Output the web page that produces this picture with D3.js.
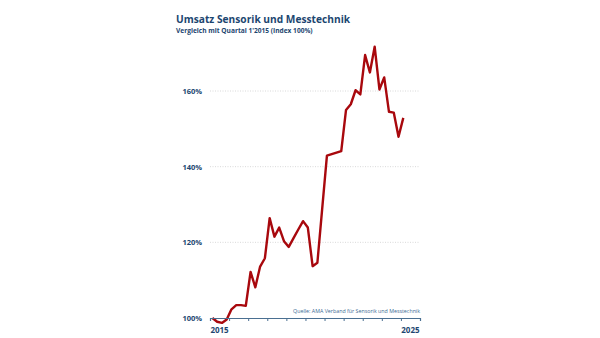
<!DOCTYPE html>
<html>
<head>
<meta charset="utf-8">
<script src="https://cdn.jsdelivr.net/npm/d3@7"></script>
<style>
  html, body { margin: 0; padding: 0; background: #fff; }
  svg { display: block; font-family: "Open Sans", sans-serif; }
</style>
</head>
<body>
<svg id="chart" width="600" height="338"></svg>
<script>
// Quarterly index values, Q1 2015 .. Q1 2025 (Q1 2015 = 100)
const years =    [2015,2015,2015,2015, 2016,2016,2016,2016, 2017,2017,2017,2017, 2018,2018,2018,2018,
                  2019,2019,2019,2019, 2020,2020,2020,2020, 2021,2021,2021,2021, 2022,2022,2022,2022,
                  2023,2023,2023,2023, 2024,2024,2024,2024, 2025];
const quarters = [1,2,3,4, 1,2,3,4, 1,2,3,4, 1,2,3,4, 1,2,3,4, 1,2,3,4, 1,2,3,4, 1,2,3,4, 1,2,3,4, 1,2,3,4, 1];
const values =   [100.0, 99.0, 98.7, 99.6, 102.3, 103.4, 103.4, 103.2,
                  112.2, 108.1, 113.6, 115.8, 126.4, 121.5, 123.9, 120.3,
                  118.8, 121.1, 123.4, 125.6, 123.9, 113.7, 114.6, 128.8,
                  142.9, 143.3, 143.7, 144.1, 155.0, 156.5, 160.2, 159.1,
                  169.5, 164.9, 171.7, 160.4, 163.6, 154.5, 154.3, 147.9, 152.9];
const yTicks = [100, 120, 140, 160];
const xTickYears = [2015,2016,2017,2018,2019,2020,2021,2022,2023,2024,2025,2026];
const xLabelYears = [2015, 2025];

const title = "Umsatz Sensorik und Messtechnik";
const subtitle = "Vergleich mit Quartal 1'2015 (Index 100%)";
const source = "Quelle: AMA Verband für Sensorik und Messtechnik";

const navy = "#1c4670";
const svg = d3.select("#chart");

const left = 210, right = 420, bottom = 318;
const x = d3.scaleLinear().domain([2015, 2026]).range([left, right]);
const y = d3.scaleLinear().domain([100, 160]).range([bottom, 91]);

const data = values.map((v, i) => ({ t: years[i] + (quarters[i] - 0.5) / 4, v }));

// title
svg.append("text").attr("x", 176).attr("y", 23)
  .attr("font-size", 10.2).attr("font-weight", 700).attr("fill", navy).text(title);
svg.append("text").attr("x", 176).attr("y", 33)
  .attr("font-size", 6.6).attr("font-weight", 700).attr("fill", navy).text(subtitle);

// gridlines
const grid = svg.append("g");
yTicks.filter(t => t > 100).forEach(t => {
  grid.append("line").attr("x1", left).attr("x2", right)
    .attr("y1", y(t)).attr("y2", y(t))
    .attr("stroke", "#cfcfcf").attr("stroke-width", 0.8).attr("stroke-dasharray", "1,1.5");
});

// y labels
const yAxis = d3.axisLeft(y).tickValues(yTicks).tickSize(0).tickPadding(8)
  .tickFormat(d => d + "%");
const gy = svg.append("g").attr("transform", `translate(${left},0)`).call(yAxis);
gy.select(".domain").remove();
gy.selectAll("text").attr("font-size", 7.5).attr("font-weight", 700)
  .attr("fill", navy).attr("font-family", "Open Sans, sans-serif");

// source
svg.append("text").attr("x", right).attr("y", 313).attr("text-anchor", "end")
  .attr("font-size", 5.3).attr("fill", "#3d6a93").text(source);

// line
const line = d3.line().x(d => x(d.t)).y(d => y(d.v)).curve(d3.curveLinear);
svg.append("path").datum(data).attr("d", line)
  .attr("fill", "none").attr("stroke", "#a8080d").attr("stroke-width", 2.4)
  .attr("stroke-linejoin", "round");

// x axis
const xAxis = d3.axisBottom(x).tickValues(xTickYears).tickSize(3).tickFormat("");
const gx = svg.append("g").attr("transform", `translate(0,${bottom})`).call(xAxis);
gx.select(".domain").attr("stroke", "#4a6f91").attr("stroke-width", 1.2);
gx.selectAll(".tick line").attr("stroke", "#4a6f91").attr("stroke-width", 1);

// x labels (centered within year)
svg.append("g").selectAll("text").data(xLabelYears).join("text")
  .attr("x", d => x(d + 0.5)).attr("y", 333).attr("text-anchor", "middle")
  .attr("font-size", 8).attr("font-weight", 700).attr("fill", navy).text(d => d);
</script>
</body>
</html>
